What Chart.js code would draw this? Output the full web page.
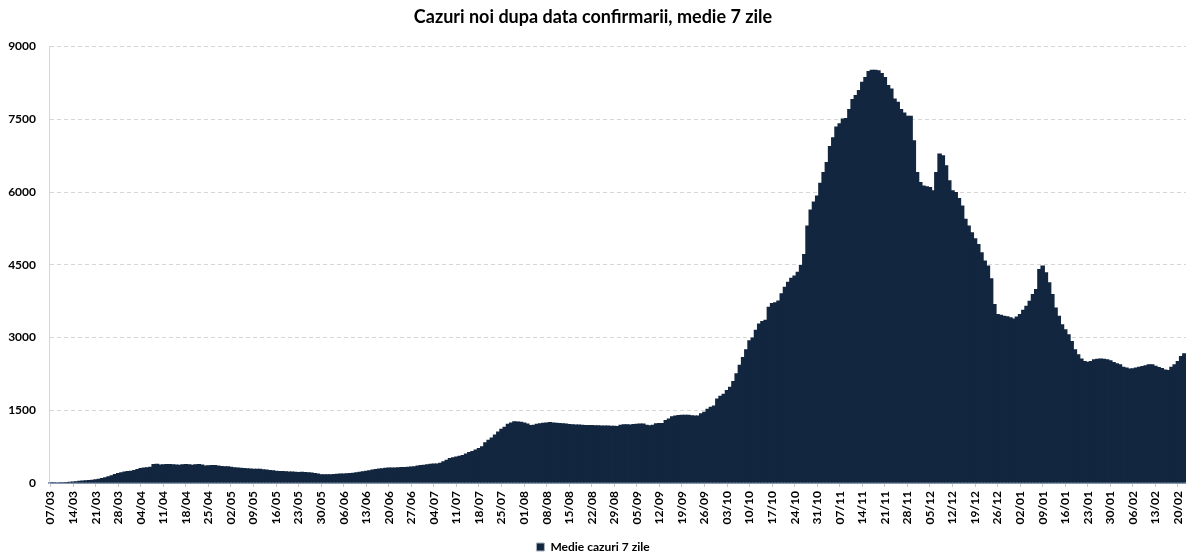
<!DOCTYPE html>
<html>
<head>
<meta charset="utf-8">
<script src="https://cdn.jsdelivr.net/npm/chart.js@4.4.1/dist/chart.umd.min.js"></script>
<style>
  html, body { margin: 0; padding: 0; background: #fff; }
  #wrap { width: 1186px; height: 554px; position: relative; }
</style>
</head>
<body>
<div id="wrap"><canvas id="grafic"></canvas></div>
<script>
// medie cazuri noi pe 7 zile, cate o saptamana pe rand, incepand cu 07/03/2020
const medie7 = [
  5, 7, 10, 14, 18, 22, 27,
  32, 38, 44, 50, 55, 60, 66,
  75, 90, 105, 120, 140, 160, 185,
  207, 220, 235, 245, 255, 270, 290,
  310, 318, 325, 335, 390, 395, 380,
  385, 390, 392, 388, 380, 378, 385,
  390, 385, 378, 385, 390, 380, 362,
  365, 372, 370, 360, 352, 345, 348,
  335, 325, 318, 312, 308, 305, 300,
  296, 295, 292, 285, 278, 270, 262,
  255, 250, 245, 240, 238, 235, 232,
  228, 230, 228, 222, 215, 208, 195,
  182, 178, 178, 182, 186, 190, 194,
  198, 200, 205, 212, 220, 230, 242,
  255, 265, 278, 290, 300, 305, 312,
  318, 320, 322, 325, 328, 331, 333,
  340, 345, 360, 370, 375, 385, 395,
  400, 402, 420, 448, 480, 515, 530,
  545, 560, 580, 607, 640, 662, 690,
  720, 760, 842, 890, 940, 1000, 1060,
  1120, 1160, 1221, 1250, 1276, 1270, 1263,
  1249, 1228, 1195, 1200, 1221, 1230, 1240,
  1248, 1256, 1250, 1242, 1238, 1232, 1225,
  1218, 1212, 1208, 1205, 1202, 1198, 1195,
  1194, 1192, 1190, 1188, 1186, 1184, 1182,
  1180, 1178, 1200, 1214, 1210, 1205, 1218,
  1221, 1225, 1228, 1200, 1193, 1200, 1230,
  1235, 1238, 1300, 1330, 1379, 1390, 1400,
  1407, 1407, 1408, 1395, 1393, 1393, 1440,
  1470, 1531, 1570, 1600, 1745, 1800, 1841,
  1917, 1986, 2104, 2262, 2441, 2600, 2759,
  2945, 3000, 3159, 3290, 3340, 3366, 3635,
  3710, 3730, 3766, 3911, 4048, 4152, 4235,
  4280, 4359, 4497, 4724, 5311, 5642, 5807,
  5931, 6193, 6414, 6621, 6952, 7131, 7352,
  7421, 7518, 7530, 7711, 7918, 8000, 8104,
  8276, 8373, 8497, 8525, 8525, 8511, 8455,
  8373, 8207, 8138, 7932, 7862, 7711, 7642,
  7573, 7573, 7069, 6414, 6207, 6138, 6120,
  6104, 6035, 6414, 6793, 6759, 6552, 6242,
  6035, 6000, 5876, 5725, 5449, 5311, 5173,
  5049, 4931, 4759, 4587, 4483, 4221, 3690,
  3483, 3470, 3449, 3440, 3420, 3393, 3435,
  3483, 3573, 3655, 3759, 3897, 4000, 4414,
  4483, 4345, 4138, 3897, 3621, 3449, 3276,
  3173, 3069, 2931, 2759, 2655, 2566, 2517,
  2500, 2517, 2552, 2560, 2566, 2560, 2552,
  2530, 2497, 2470, 2448, 2400, 2380, 2359,
  2365, 2380, 2400, 2414, 2430, 2448, 2448,
  2420, 2393, 2370, 2340, 2331, 2400, 2448,
  2517, 2621, 2676
];

// zilele de pe axa x (dd/mm), una pe bara
const primaZi = Date.UTC(2020, 2, 7);
const zile = medie7.map((_, i) => {
  const d = new Date(primaZi + i * 86400000);
  return String(d.getUTCDate()).padStart(2, "0") + "/" + String(d.getUTCMonth() + 1).padStart(2, "0");
});

const titlu = "Cazuri noi dupa data confirmarii, medie 7 zile";
const numeSerie = "Medie cazuri 7 zile";
const pasEticheta = 7;

Chart.defaults.font.family = "Lato, 'Open Sans', sans-serif";
Chart.defaults.color = "#000";

new Chart(document.getElementById("grafic"), {
  type: "bar",
  data: {
    labels: zile,
    datasets: [{
      label: numeSerie,
      data: medie7,
      backgroundColor: "#13263f",
      borderWidth: 0,
      barPercentage: 1.4,   // suprapunere ca sa nu apara dungi albe intre bare
      categoryPercentage: 1
    }]
  },
  options: {
    responsive: true,
    maintainAspectRatio: false,
    animation: false,
    layout: { padding: { left: 0, right: 0, top: 0, bottom: -9 } },
    plugins: {
      title: {
        display: true,
        text: titlu,
        font: { size: 18, weight: "bold" },
        color: "#000",
        padding: { top: 6, bottom: 19 }
      },
      legend: {
        position: "bottom",
        labels: {
          boxWidth: 8,
          boxHeight: 8,
          padding: 3,
          font: { size: 12, weight: "bold" },
          generateLabels: (chart) => {
            const items = Chart.defaults.plugins.legend.labels.generateLabels(chart);
            items.forEach(it => { it.lineWidth = 1; it.strokeStyle = "#a7b1bf"; });
            return items;
          }
        }
      },
      tooltip: { enabled: false }
    },
    scales: {
      x: {
        grid: {
          offset: false,
          drawOnChartArea: false,
          tickLength: 4,
          color: (ctx) => ctx.index % pasEticheta === 0 ? "#c8c8c8" : "transparent"
        },
        border: { color: "#8797ad", width: 2 },
        ticks: {
          autoSkip: false,
          minRotation: 90,
          maxRotation: 90,
          padding: 4,
          font: { size: 12, weight: "bold" },
          color: "#000",
          callback: (v, i) => i % pasEticheta === 0 ? zile[i] : ""
        },
        afterFit: (s) => { s.height = 55; s.paddingLeft = 0; s.paddingRight = 0; }
      },
      y: {
        min: 0,
        max: 9000,
        ticks: {
          stepSize: 1500,
          padding: 13,
          font: { size: 12, weight: "bold" },
          color: "#000",
          callback: (v) => String(v)
        },
        grid: { color: "#d6d6d6", drawTicks: false },
        border: { dash: [4, 3], color: "#d6d6d6" },
        afterFit: (s) => { s.width = 49; }
      }
    }
  }
});
</script>
</body>
</html>
